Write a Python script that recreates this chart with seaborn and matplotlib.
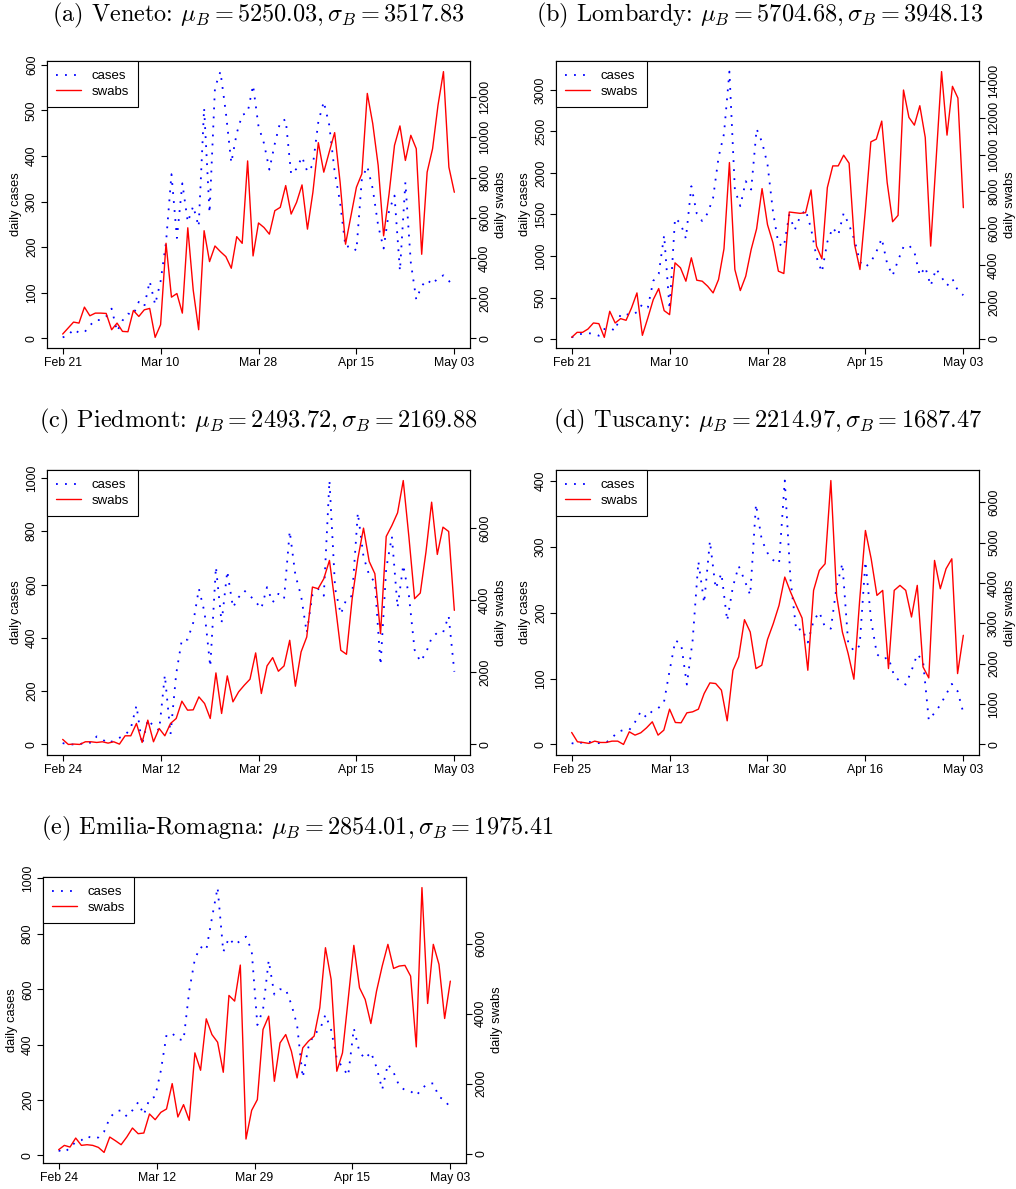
import numpy as np
import pandas as pd
import matplotlib
matplotlib.use('Agg')
import matplotlib.pyplot as plt
import matplotlib.dates as mdates
from matplotlib.ticker import MultipleLocator
import seaborn as sns

sns.set_theme(style='white')
plt.rcParams['font.family'] = ['Liberation Sans', 'DejaVu Sans']
plt.rcParams['mathtext.fontset'] = 'cm'
plt.rcParams['axes.edgecolor'] = 'black'
plt.rcParams['text.color'] = 'black'
plt.rcParams['xtick.color'] = 'black'
plt.rcParams['ytick.color'] = 'black'
plt.rcParams['axes.labelcolor'] = 'black'

# ---- data (daily values) ----
veneto_start = '2020-02-21'
veneto_cases = [2, 6, 20, 12, 13, 28, 40, 40, 48, 65, 15, 39, 54, 52, 80, 70, 125, 74, 125,
                210, 360, 220, 340, 255, 290, 245, 505, 275, 550, 585, 495, 385, 450, 490, 495, 555, 465,
                428, 370, 427, 475, 480, 360, 372, 398, 365, 380, 475, 519, 468, 365, 298, 200, 203, 192,
                350, 377, 328, 247, 197, 280, 313, 148, 342, 166, 85, 115, 128, 118, 133, 138, 126, 111]
veneto_swabs = [215, 512, 810, 760, 1554, 1124, 1256, 1256, 1240, 430, 760, 347, 330, 1388, 1090, 1420, 1490, 50, 680,
                4730, 2050, 2230, 1256, 5500, 2400, 430, 5355, 3818, 4595, 4314, 4066, 3488, 5058, 4727, 8826, 4100, 5740,
                5517, 5183, 6350, 6517, 7600, 6183, 6767, 7633, 5433, 7267, 9733, 8267, 9267, 10233, 7767, 4683, 6100, 7517,
                8183, 12183, 10683, 8600, 5100, 7183, 9600, 10567, 8850, 10100, 9433, 4183, 8267, 9433, 11600, 13267, 8517, 7267]

lombardy_start = '2020-02-21'
lombardy_cases = [20, 50, 65, 70, 65, 40, 120, 135, 100, 300, 300, 285, 325, 420, 380, 700, 785, 1250, 360,
                  1455, 1395, 1210, 1840, 1510, 1420, 1515, 1700, 2187, 2470, 3220, 1800, 1600, 1900, 1800, 2530, 2370, 2105,
                  1537, 1150, 1110, 1495, 1313, 1475, 1557, 1333, 988, 805, 1170, 1341, 1252, 1516, 1374, 1191, 927, 866,
                  927, 1049, 1211, 906, 764, 947, 1110, 1130, 1049, 764, 866, 642, 846, 744, 642, 724, 581, 528]
lombardy_swabs = [90, 362, 362, 543, 870, 833, 90, 1504, 870, 1105, 1015, 1685, 2500, 200, 1141, 2138, 2735, 1540, 1322,
                  4130, 3860, 3134, 4402, 3188, 3134, 2862, 2500, 3225, 4891, 9565, 3768, 2627, 3406, 4855, 5978, 8152, 6200,
                  5217, 3678, 3551, 6884, 6848, 6812, 6848, 8080, 5036, 4348, 8207, 9384, 9384, 9964, 9529, 5127, 3768, 7029,
                  10688, 10833, 11812, 8478, 6359, 6703, 13496, 12011, 11594, 12645, 10924, 5036, 9746, 14493, 11051, 13696, 13062, 7120]

piedmont_start = '2020-02-24'
piedmont_cases = [5, 0, 0, 0, 9, 6, 30, 19, 4, 15, 25, 35, 60, 146, 0, 93, 69, 53, 260, 38, 265, 393, 393, 457, 584,
                  495, 292, 666, 457, 650, 514, 552, 577, 558, 535,
                  510, 590, 533, 565, 546, 800, 635, 558, 419, 561, 584, 558, 990, 584, 489, 546, 558, 869, 704, 635,
                  609, 298, 660, 780, 514, 673, 558, 355, 311, 343, 400, 419, 419, 482, 273]
piedmont_swabs = [140, 0, 10, 0, 74, 74, 55, 74, 37, 74, 9, 240, 240, 582, 55, 674, 74, 443, 240, 582, 720, 1200, 951, 960, 1320,
                  1136, 720, 1985, 859, 1902, 1182, 1459, 1644, 1810, 2540,
                  1413, 2179, 2410, 2031, 2179, 2890, 1616, 2567, 2982, 4367, 4321, 4598, 5106, 3906, 2613, 2502, 4044, 5152, 6002, 5078,
                  4737, 3075, 5771, 6075, 6427, 7322, 5752, 4044, 4201, 5337, 6722, 5272, 6029, 5909, 3721]

tuscany_start = '2020-02-25'
tuscany_cases = [2, 0, 4, 4, 2, 2, 3, 10, 19, 22, 22, 34, 50, 41, 51, 55, 63, 112, 158, 153, 91, 158, 278, 215, 309,
                 237, 260, 188, 240, 271, 250, 227, 365, 311, 291,
                 280, 275, 401, 250, 173, 176, 155, 188, 201, 178, 176, 240, 275, 155, 142, 150, 278, 188, 137, 130,
                 132, 104, 96, 91, 112, 137, 127, 37, 48, 60, 76, 92, 81, 48]
tuscany_swabs = [297, 66, 49, 25, 82, 49, 49, 82, 82, 0, 313, 231, 289, 412, 561, 231, 354, 874, 544, 536, 783, 808, 874, 1261, 1525,
                 1509, 1344, 585, 1838, 2168, 3091, 2786, 1880, 1962, 2600,
                 2993, 3446, 4147, 3776, 3446, 3133, 1838, 3817, 4312, 4476, 6538, 3693, 2786, 2251, 1616, 3570, 5301, 4600, 3693, 3817,
                 1880, 3817, 3941, 3817, 3157, 3941, 1921, 1649, 4559, 3858, 4353, 4600, 1756, 2704]

emilia_start = '2020-02-24'
emilia_cases = [18, 11, 28, 49, 55, 70, 61, 65, 86, 135, 159, 163, 141, 163, 192, 147, 204, 212, 306, 435, 441, 420, 416, 594,
                710, 753, 741, 857, 967, 735, 785, 760, 775, 790,
                740, 471, 526, 704, 581, 600, 600, 545, 471, 281, 391, 440, 453, 508, 453, 349, 318, 288, 459, 373,
                349, 373, 318, 238, 330, 300, 251, 236, 232, 216, 241, 260, 260, 211, 201, 171]
emilia_swabs = [115, 239, 191, 448, 239, 258, 239, 181, 38, 477, 372, 258, 477, 735, 573, 592, 1136, 973, 1183, 1279, 2004, 1050,
                1403, 954, 2882, 2385, 3855, 3406, 3187, 2328, 4523, 4361, 5391, 420,
                1240, 1546, 3550, 3931, 2070, 3168, 3406, 2929, 2166, 3025, 3216, 3359, 4170, 5887, 4981, 2357, 2882, 4408,
                5954, 4742, 4408, 3721, 4647, 5363, 5983, 5296, 5363, 5382, 5076, 3053, 7605, 4294, 5983, 5410, 3865, 4933]

regions = ['(a) Veneto', '(b) Lombardy', '(c) Piedmont', '(d) Tuscany', '(e) Emilia-Romagna']
mu_b = ['5250.03', '5704.68', '2493.72', '2214.97', '2854.01']
sigma_b = ['3517.83', '3948.13', '2169.88', '1687.47', '1975.41']
cases_step = [100, 500, 200, 100, 200]
swabs_step = [2000, 2000, 2000, 1000, 2000]

starts = [veneto_start, lombardy_start, piedmont_start, tuscany_start, emilia_start]
all_cases = [veneto_cases, lombardy_cases, piedmont_cases, tuscany_cases, emilia_cases]
all_swabs = [veneto_swabs, lombardy_swabs, piedmont_swabs, tuscany_swabs, emilia_swabs]

# ---- layout (pixel boxes: left, top, right, bottom) ----
W, H = 1016, 1189
boxes = [(47, 61, 470, 348), (556, 61, 979, 348),
         (47, 470, 470, 755), (556, 470, 979, 755),
         (43, 877, 466, 1163)]
title_pos = [(258, 15), (760, 15), (258, 421), (768, 421), (297, 828)]

fig = plt.figure(figsize=(W / 100, H / 100), dpi=100)


def draw_panel(box, start, cases, swabs, cstep, sstep):
    l, t, r, b = box
    ax = fig.add_axes([l / W, 1 - b / H, (r - l) / W, (b - t) / H])
    df = pd.DataFrame({'date': pd.date_range(start, periods=len(cases), freq='D'),
                       'cases': cases, 'swabs': swabs})
    sns.lineplot(data=df, x='date', y='cases', ax=ax, color='blue',
                 linestyle=(0, (1, 4)), linewidth=1.3)
    ax2 = ax.twinx()
    sns.lineplot(data=df, x='date', y='swabs', ax=ax2, color='red', linewidth=1.0)

    # R style: 4% padding, ticks at 5 evenly spaced dates
    for a in (ax, ax2):
        a.margins(x=0.04, y=0.04)
    n = len(cases)
    t0 = pd.Timestamp(start)
    ticks = [t0 + pd.Timedelta(days=k * (n - 1) / 4) for k in range(5)]
    ax.set_xticks(mdates.date2num(ticks))
    ax.set_xticklabels([tk.strftime('%b %d') for tk in ticks])
    ax.yaxis.set_major_locator(MultipleLocator(cstep))
    ax2.yaxis.set_major_locator(MultipleLocator(sstep))

    ax.set_xlabel('')
    ax.set_ylabel('daily cases', fontsize=9.3, labelpad=3)
    ax2.set_ylabel('daily swabs', fontsize=9.3, labelpad=3)
    ax.tick_params(axis='both', which='major', direction='out', length=4.5, width=0.8,
                   labelsize=8.8, pad=2, bottom=True, left=True)
    ax.tick_params(axis='y', labelrotation=90)
    ax2.tick_params(axis='y', direction='out', length=4.5, width=0.8, labelsize=8.8,
                    pad=2, right=True, labelrotation=90)
    for lab in ax.get_yticklabels() + ax2.get_yticklabels():
        lab.set_va('center')
    for a in (ax, ax2):
        for s in a.spines.values():
            s.set_color('black')
            s.set_linewidth(0.8)

    leg = ax2.legend([ax.lines[0], ax2.lines[0]], ['cases', 'swabs'], loc='upper left',
                     borderaxespad=0, fancybox=False, framealpha=1, edgecolor='black',
                     fontsize=9.5, handlelength=1.9, borderpad=0.7, labelspacing=0.25,
                     handletextpad=0.8)
    leg.get_frame().set_linewidth(0.8)
    return ax, ax2


for i in range(5):
    draw_panel(boxes[i], starts[i], all_cases[i], all_swabs[i], cases_step[i], swabs_step[i])
    tx, ty = title_pos[i]
    fig.text(tx / W, 1 - ty / H,
             regions[i] + r': $\mu_B = ' + mu_b[i] + r', \sigma_B = ' + sigma_b[i] + '$',
             ha='center', va='center', fontsize=17.5, family='cmr10')

fig.savefig('out.png', dpi=100)
